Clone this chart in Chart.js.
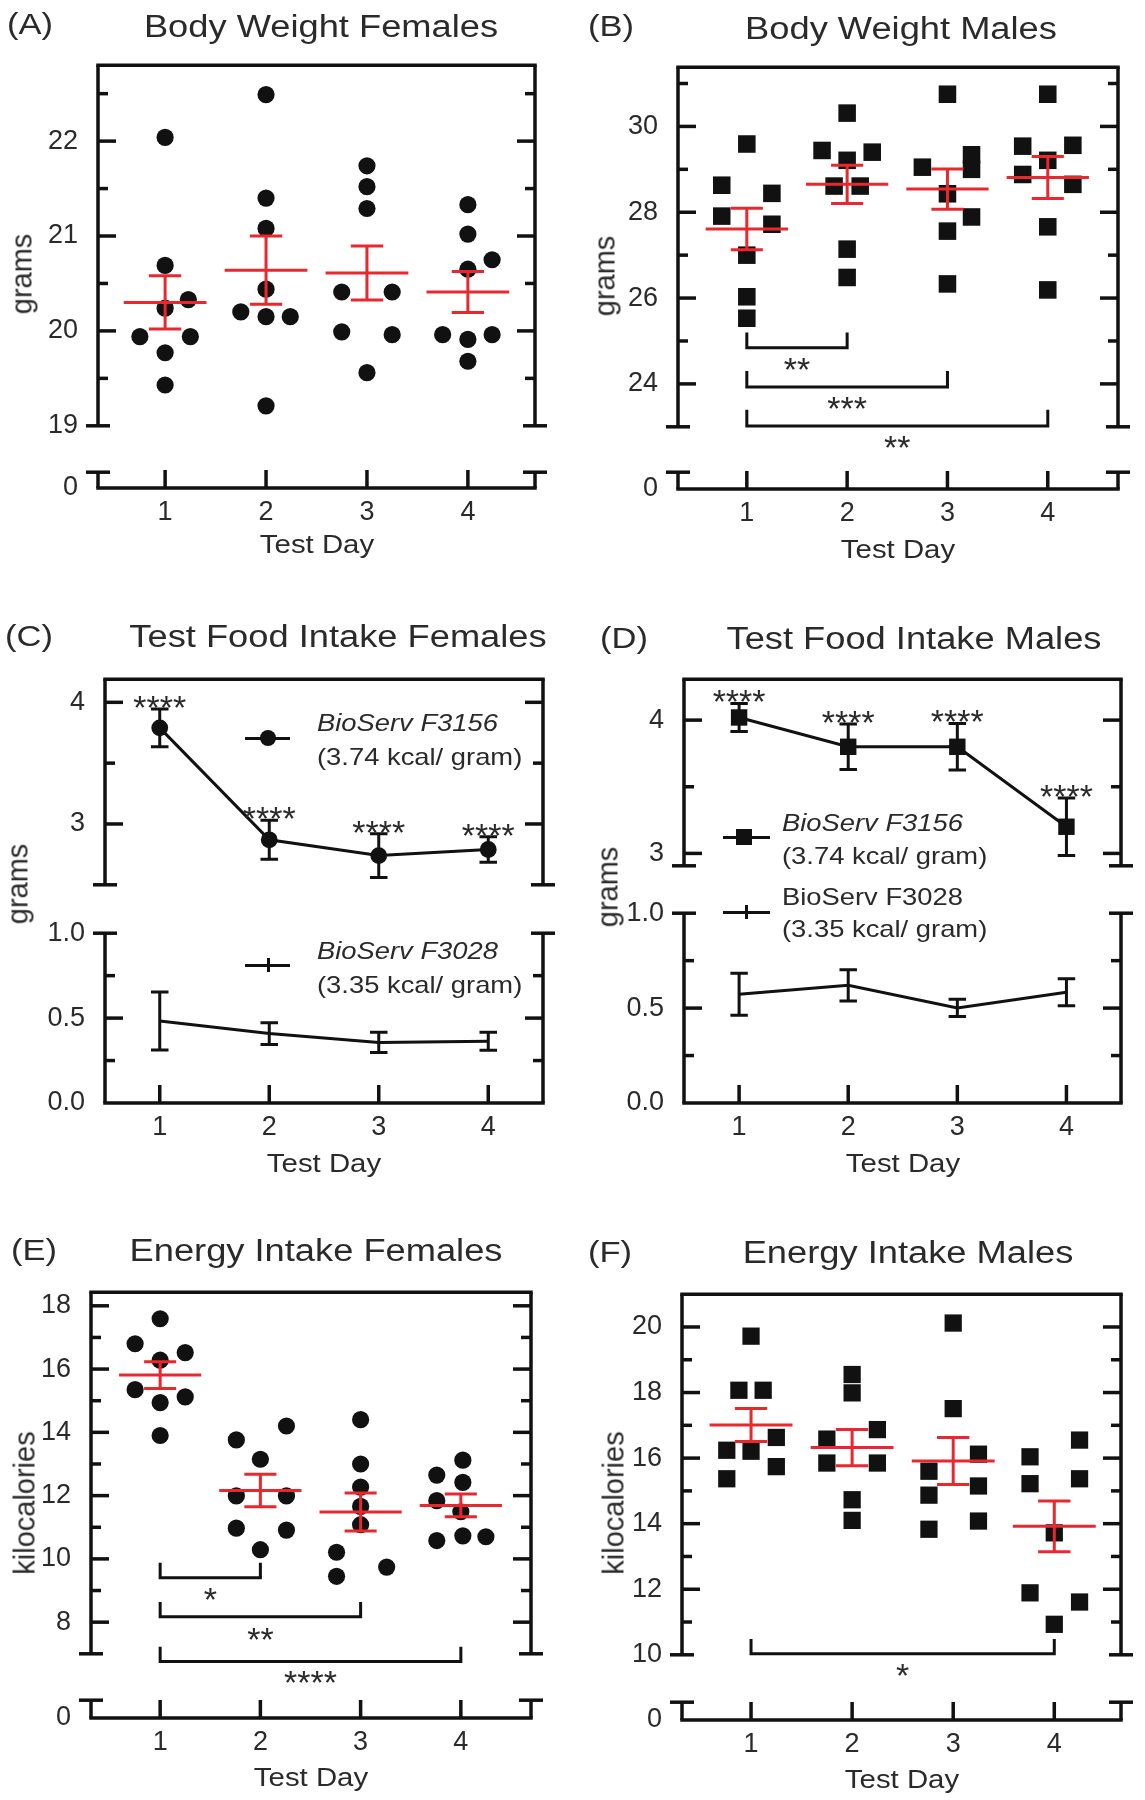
<!DOCTYPE html>
<html>
<head>
<meta charset="utf-8">
<script src="https://cdn.jsdelivr.net/npm/chart.js@4.4.0/dist/chart.umd.min.js"></script>
<style>
  body { margin: 0; background: #fff; }
  #fig { position: relative; width: 1145px; height: 1800px; overflow: hidden; font-family: 'Liberation Sans', Arial, Helvetica, sans-serif; color: #2a2a2a; }
  #fig canvas { position: absolute; }
  .txt { position: absolute; white-space: nowrap; line-height: 1; }
  .mark { position: absolute; background: #111; }
</style>
</head>
<body>
<div id="fig"></div>
<script>
// ---- data ----
const days = [1, 2, 3, 4];

// (A) body weight females (g)
const bwFemales = [
    [22.04, 20.69, 20.33, 20.24, 19.94, 19.94, 19.77, 19.43],
    [22.49, 21.40, 21.08, 20.44, 20.20, 20.15, 20.15, 19.21],
    [21.74, 21.52, 21.29, 20.41, 20.41, 19.99, 19.96, 19.56],
    [21.33, 21.02, 20.75, 20.65, 19.96, 19.96, 19.91, 19.68]
];
const bwFemalesJitter = [
    [0, 0, 0.23, 0, -0.25, 0.25, 0, 0],
    [0, 0, 0, 0, -0.25, 0, 0.24, 0],
    [0, 0, 0, -0.25, 0.25, -0.25, 0.25, 0],
    [0, 0, 0.24, 0, -0.25, 0.24, 0, 0]
];
const bwFemalesMean = [20.30, 20.64, 20.61, 20.41];
const bwFemalesSem = [0.28, 0.36, 0.285, 0.215];
const bwFemalesTicks = [19, 20, 21, 22];
const bwFemalesMinor = [19.5, 20.5, 21.5, 22.5];

// (B) body weight males (g)
const bwMales = [
    [29.59, 28.63, 28.44, 27.91, 27.72, 27.00, 26.03, 25.53],
    [30.31, 29.44, 29.40, 29.21, 28.61, 28.61, 27.14, 26.48],
    [30.75, 29.34, 29.05, 29.00, 28.43, 27.89, 27.56, 26.33],
    [30.75, 29.56, 29.54, 29.21, 28.88, 28.65, 27.66, 26.19]
];
const bwMalesJitter = [
    [0, -0.25, 0.25, -0.25, 0.25, 0, 0, 0],
    [0, -0.25, 0.25, 0, -0.13, 0.13, 0, 0],
    [0, 0.24, -0.25, 0.24, 0, 0.24, 0, 0],
    [0, 0.25, -0.25, 0, -0.25, 0.25, 0, 0]
];
const bwMalesMean = [27.61, 28.65, 28.54, 28.81];
const bwMalesSem = [0.485, 0.445, 0.47, 0.49];
const bwMalesTicks = [24, 26, 28, 30];
const bwMalesMinor = [23, 25, 27, 29, 31];
const bwMalesPairs = [[1, 2], [1, 3], [1, 4]];
const bwMalesPairHigh = [25.20, 24.30, 23.40];
const bwMalesPairLow = [24.84, 23.93, 23.02];
const bwMalesPairStars = ['**', '***', '**'];
const bwMalesPairStarY = [24.54, 23.63, 22.72];

// (C) test food intake females (g)
const f3156Females = [3.79, 2.87, 2.74, 2.79];
const f3156FemalesSem = [0.155, 0.16, 0.18, 0.105];
const f3028Females = [0.483, 0.409, 0.357, 0.363];
const f3028FemalesSem = [0.171, 0.064, 0.06, 0.053];
const f3156FemalesStars = ['****', '****', '****', '****'];

// (D) test food intake males (g)
const f3156Males = [4.02, 3.80, 3.80, 3.20];
const f3156MalesSem = [0.105, 0.17, 0.175, 0.215];
const f3028Males = [0.573, 0.620, 0.501, 0.583];
const f3028MalesSem = [0.111, 0.082, 0.045, 0.071];
const f3156MalesStars = ['****', '****', '****', '****'];

const intakeTicksTop = [3, 4];
const intakeMinorTop = [3.5];
const intakeTicksLow = [0, 0.5, 1.0];
const intakeMinorLow = [0.25, 0.75];

// (E) energy intake females (kcal)
const eiFemales = [
    [17.59, 16.80, 16.52, 16.28, 15.35, 15.12, 14.94, 13.90],
    [14.20, 13.76, 13.15, 11.99, 11.99, 10.97, 10.91, 10.29],
    [14.40, 13.00, 12.27, 11.66, 11.08, 10.21, 9.74, 9.45],
    [13.12, 12.65, 12.42, 11.84, 11.49, 10.73, 10.70, 10.58]
];
const eiFemalesJitter = [
    [0, -0.25, 0.25, 0, -0.25, 0.25, 0, 0],
    [0.26, -0.24, 0, -0.24, 0.26, -0.24, 0.26, 0],
    [0, 0, 0, 0, 0, -0.24, 0.26, -0.24],
    [0.02, -0.24, 0.02, -0.24, 0, 0.02, 0.25, -0.24]
];
const eiFemalesMean = [15.81, 12.16, 11.48, 11.69];
const eiFemalesSem = [0.425, 0.515, 0.60, 0.36];
const eiFemalesTicks = [8, 10, 12, 14, 16, 18];
const eiFemalesMinor = [7, 9, 11, 13, 15, 17];
const eiFemalesPairs = [[1, 2], [1, 3], [1, 4]];
const eiFemalesPairHigh = [9.88, 8.64, 7.22];
const eiFemalesPairLow = [9.40, 8.17, 6.76];
const eiFemalesPairStars = ['*', '**', '****'];
const eiFemalesPairStarY = [8.99, 7.71, 6.37];

// (F) energy intake males (kcal)
const eiMales = [
    [19.72, 18.07, 18.07, 16.63, 16.24, 16.21, 15.74, 15.37],
    [18.55, 17.99, 16.87, 16.58, 15.85, 15.85, 14.73, 14.10],
    [20.12, 17.51, 16.12, 15.60, 15.15, 14.87, 14.08, 13.83],
    [16.55, 16.04, 15.37, 15.22, 13.72, 11.89, 11.61, 10.93]
];
const eiMalesJitter = [
    [0, -0.12, 0.12, 0.25, -0.24, 0, 0.25, -0.24],
    [0, 0, 0.25, -0.25, -0.25, 0.25, 0, 0],
    [0, 0, 0.25, -0.24, 0.25, -0.24, 0.25, -0.24],
    [0.25, -0.24, 0.25, -0.24, 0, -0.24, 0.25, 0]
];
const eiMalesMean = [17.01, 16.32, 15.91, 13.92];
const eiMalesSem = [0.505, 0.55, 0.715, 0.775];
const eiMalesTicks = [10, 12, 14, 16, 18, 20];
const eiMalesMinor = [11, 13, 15, 17, 19];
const eiMalesPairs = [[1, 4]];
const eiMalesPairHigh = [10.48];
const eiMalesPairLow = [10.03];
const eiMalesPairStars = ['*'];
const eiMalesPairStarY = [9.64];

const zeroTick = [0];

// ---- drawing ----
const fig = document.getElementById('fig');
const FONT = "'Liberation Sans', Arial, Helvetica, sans-serif";
const INK = '#111';
const TEXT = '#2a2a2a';
const RED = '#e8282e';
const AX = 90, PR = 24, PT = 24, PB = 34, XH = 60;

// frame: box, broken-axis caps, inward ticks
const framePlugin = {
    id: 'frame',
    afterDraw(chart, args, opts) {
        if (!opts.part) return;
        const { ctx, chartArea: a, scales } = chart;
        const y = scales.y, x = scales.x;
        ctx.save();
        ctx.strokeStyle = INK;
        ctx.lineWidth = 3.5;
        const seg = (x1, y1, x2, y2) => { ctx.beginPath(); ctx.moveTo(x1, y1); ctx.lineTo(x2, y2); ctx.stroke(); };
        if (opts.part === 'upper') {
            seg(a.left - 1.75, a.top, a.right + 1.75, a.top);
            seg(a.left, a.top, a.left, a.bottom);
            seg(a.right, a.top, a.right, a.bottom);
            seg(a.left - 12, a.bottom, a.left + 12, a.bottom);
            seg(a.right - 12, a.bottom, a.right + 12, a.bottom);
        } else {
            seg(a.left - 12, a.top, a.left + 12, a.top);
            seg(a.right - 12, a.top, a.right + 12, a.top);
            seg(a.left, a.top, a.left, a.bottom);
            seg(a.right, a.top, a.right, a.bottom);
            seg(a.left - 1.75, a.bottom, a.right + 1.75, a.bottom);
            days.forEach(v => { const px = x.getPixelForValue(v); seg(px, a.bottom, px, a.bottom - 18); });
        }
        const inner = (v, len) => {
            const py = y.getPixelForValue(v);
            if (Math.abs(py - a.top) < 3 || Math.abs(py - a.bottom) < 3) return;
            seg(a.left, py, a.left + len, py);
            seg(a.right, py, a.right - len, py);
        };
        (opts.majors || []).forEach(v => inner(v, 18));
        (opts.minors || []).forEach(v => inner(v, 10));
        ctx.restore();
    }
};

// significance asterisks
const starsPlugin = {
    id: 'stars',
    afterDatasetsDraw(chart, args, opts) {
        if (!opts.items || !opts.items.length) return;
        const { ctx, scales: { x, y } } = chart;
        ctx.save();
        ctx.fillStyle = TEXT;
        ctx.font = '34px ' + FONT;
        ctx.textAlign = 'center';
        ctx.textBaseline = 'alphabetic';
        opts.items.forEach(s => {
            const px = x.getPixelForValue(s.x);
            const py = y.getPixelForValue(s.y) + (s.dy || 0);
            ctx.fillText(s.text, px, py + 20);
        });
        ctx.restore();
    }
};

Chart.register(framePlugin, starsPlugin);

function makeCanvas(left, top, w, h) {
    const c = document.createElement('canvas');
    c.width = w; c.height = h;
    c.style.left = left + 'px'; c.style.top = top + 'px';
    c.style.width = w + 'px'; c.style.height = h + 'px';
    fig.appendChild(c);
    return c;
}

function addText(str, x, y, size, o = {}) {
    const d = document.createElement('div');
    d.className = 'txt';
    d.textContent = str;
    d.style.left = x + 'px';
    d.style.top = y + 'px';
    d.style.fontSize = size + 'px';
    if (o.italic) d.style.fontStyle = 'italic';
    const sx = o.sx || 1;
    if (o.rotate) {
        d.style.transform = 'translate(-50%,-50%) rotate(-90deg)';
    } else if (o.left) {
        d.style.transformOrigin = '0 50%';
        d.style.transform = `translateY(-50%) scaleX(${sx})`;
    } else {
        d.style.transform = `translate(-50%,-50%) scaleX(${sx})`;
    }
    fig.appendChild(d);
}

function addMark(x, y, w, h, round) {
    const d = document.createElement('div');
    d.className = 'mark';
    d.style.left = (x - w / 2) + 'px';
    d.style.top = (y - h / 2) + 'px';
    d.style.width = w + 'px';
    d.style.height = h + 'px';
    if (round) d.style.borderRadius = '50%';
    fig.appendChild(d);
}

// helpers turning the arrays into chart points
function scatterPoints(groups, jitter) {
    const pts = [];
    groups.forEach((vals, i) => vals.forEach((v, j) => pts.push({ x: days[i] + jitter[i][j], y: v })));
    return pts;
}
function meanSegments(means, half) {
    const pts = [];
    means.forEach((m, i) => pts.push({ x: days[i] - half, y: m }, { x: days[i] + half, y: m }, { x: days[i], y: null }));
    return pts;
}
function errorSegments(means, sems, cap) {
    const pts = [];
    means.forEach((m, i) => {
        const d = days[i], hi = m + sems[i], lo = m - sems[i];
        pts.push({ x: d, y: lo }, { x: d, y: hi }, { x: d, y: null },
                 { x: d - cap, y: hi }, { x: d + cap, y: hi }, { x: d, y: null },
                 { x: d - cap, y: lo }, { x: d + cap, y: lo }, { x: d, y: null });
    });
    return pts;
}
function bracketSegments(pairs, high, low) {
    const pts = [];
    pairs.forEach((p, i) => pts.push({ x: p[0], y: high[i] }, { x: p[0], y: low[i] },
                                     { x: p[1], y: low[i] }, { x: p[1], y: high[i] }, { x: p[0], y: null }));
    return pts;
}

function lineSet(data, color, order) {
    return { data, showLine: true, borderColor: color, borderWidth: 3, pointRadius: 0, spanGaps: false, clip: false, order };
}
function pointSet(data, style, radius) {
    return { data, showLine: false, pointStyle: style, pointRadius: radius, pointBorderWidth: 0,
             backgroundColor: INK, borderColor: INK, clip: false, order: 3 };
}
function dotPlotSets(groups, jitter, means, sems, style, radius, pairs, high, low) {
    const sets = [
        pointSet(scatterPoints(groups, jitter), style, radius),
        lineSet(meanSegments(means, 0.41), RED, 1),
        lineSet(errorSegments(means, sems, 0.16), RED, 1)
    ];
    if (pairs) sets.push(lineSet(bracketSegments(pairs, high, low), INK, 2));
    return sets;
}
function meanLineSets(means, sems, style, radius) {
    const line = {
        data: means.map((m, i) => ({ x: days[i], y: m })), showLine: true, borderColor: INK, borderWidth: 3,
        pointStyle: style, pointRadius: radius, pointBorderWidth: 0, backgroundColor: INK, clip: false, order: 2
    };
    return [line, lineSet(errorSegments(means, sems, 0.08), INK, 2)];
}
function pairStars(pairs, texts, ys) {
    return pairs.map((p, i) => ({ x: (p[0] + p[1]) / 2, y: ys[i], text: texts[i] }));
}
function barStars(means, sems, texts) {
    return means.map((m, i) => ({ x: days[i], y: m + sems[i], dy: -10, text: texts[i] }));
}

function buildChart(canvas, datasets, o) {
    return new Chart(canvas, {
        type: 'scatter',
        data: { datasets },
        options: {
            responsive: false,
            animation: false,
            events: [],
            devicePixelRatio: 1,
            layout: { autoPadding: false, padding: { left: 0, top: PT, right: PR, bottom: o.padBottom } },
            plugins: {
                legend: { display: false },
                tooltip: { enabled: false },
                frame: o.frame,
                stars: { items: o.stars || [] }
            },
            scales: {
                x: {
                    type: 'linear', min: o.xMin, max: o.xMax, bounds: 'data', display: o.showX,
                    afterFit: o.showX ? (s => { s.height = XH; }) : undefined,
                    afterBuildTicks: s => { s.ticks = days.map(v => ({ value: v })); },
                    grid: { display: false, drawTicks: false },
                    border: { display: false },
                    ticks: { padding: 8, color: TEXT, font: { family: FONT, size: 27 }, autoSkip: false, maxRotation: 0, callback: v => String(v) }
                },
                y: {
                    type: 'linear', min: o.yMin, max: o.yMax, bounds: 'data',
                    afterFit: s => { s.width = AX; },
                    afterBuildTicks: s => { s.ticks = o.yLabels.map(v => ({ value: v })); },
                    grid: { display: false, drawTicks: false },
                    border: { display: false },
                    ticks: { padding: 20, color: TEXT, font: { family: FONT, size: 27 }, autoSkip: false, callback: o.fmt }
                }
            }
        }
    });
}

function buildPanel(p) {
    const w = p.R - p.L + AX + PR;
    const up = makeCanvas(p.L - AX, p.T - PT, w, p.B - p.T + PT + PB);
    buildChart(up, p.upperSets, {
        xMin: p.xMin, xMax: p.xMax, yMin: p.yMin, yMax: p.yMax, yLabels: p.yLabels, fmt: p.fmt,
        showX: false, padBottom: PB, frame: { part: 'upper', majors: p.yLabels, minors: p.minors }, stars: p.stars
    });
    const lo = makeCanvas(p.L - AX, p.lowT - PT, w, p.base - p.lowT + PT + XH);
    buildChart(lo, p.lowerSets || [], {
        xMin: p.xMin, xMax: p.xMax, yMin: 0, yMax: 1, yLabels: p.lowLabels, fmt: p.lowFmt,
        showX: true, padBottom: 0, frame: { part: 'lower', majors: p.lowLabels, minors: p.lowMinors || [] }
    });
    addText(p.letter, p.letterX, p.letterY, 30, { left: true, sx: 1.15 });
    addText(p.title, p.titleX, p.titleY, 31, { sx: 1.17 });
    addText(p.ytitle, p.ytX, p.ytY, 29, { rotate: true });
    addText('Test Day', (p.L + p.R) / 2, p.xtY, 26, { sx: 1.13 });
}

const intFmt = v => String(v);
const oneDec = v => v.toFixed(1);

// (A)
buildPanel({
    letter: '(A)', letterX: 7, letterY: 24, title: 'Body Weight Females', titleX: 321, titleY: 26,
    ytitle: 'grams', ytX: 22, ytY: 274, xtY: 544,
    L: 98, R: 535, T: 53, B: 428, lowT: 460, base: 488,
    xMin: 0.335, xMax: 4.665, yMin: 19, yMax: 22.8, yLabels: bwFemalesTicks, minors: bwFemalesMinor, fmt: intFmt,
    lowLabels: zeroTick, lowFmt: intFmt,
    upperSets: dotPlotSets(bwFemales, bwFemalesJitter, bwFemalesMean, bwFemalesSem, 'circle', 8.6)
});

// (B)
buildPanel({
    letter: '(B)', letterX: 588, letterY: 26, title: 'Body Weight Males', titleX: 901, titleY: 28,
    ytitle: 'grams', ytX: 605, ytY: 276, xtY: 549,
    L: 678, R: 1118, T: 55, B: 429, lowT: 460, base: 489,
    xMin: 0.314, xMax: 4.70, yMin: 23, yMax: 31.38, yLabels: bwMalesTicks, minors: bwMalesMinor, fmt: intFmt,
    lowLabels: zeroTick, lowFmt: intFmt,
    upperSets: dotPlotSets(bwMales, bwMalesJitter, bwMalesMean, bwMalesSem, 'rect', 12.4,
                           bwMalesPairs, bwMalesPairHigh, bwMalesPairLow),
    stars: pairStars(bwMalesPairs, bwMalesPairStars, bwMalesPairStarY)
});

// (C)
buildPanel({
    letter: '(C)', letterX: 5, letterY: 636, title: 'Test Food Intake Females', titleX: 338, titleY: 636,
    ytitle: 'grams', ytX: 18, ytY: 884, xtY: 1163,
    L: 105, R: 543, T: 667, B: 887, lowT: 921, base: 1103,
    xMin: 0.5, xMax: 4.5, yMin: 2.5, yMax: 4.19, yLabels: intakeTicksTop, minors: intakeMinorTop, fmt: intFmt,
    lowLabels: intakeTicksLow, lowMinors: intakeMinorLow, lowFmt: oneDec,
    upperSets: meanLineSets(f3156Females, f3156FemalesSem, 'circle', 8.4),
    stars: barStars(f3156Females, f3156FemalesSem, f3156FemalesStars),
    lowerSets: meanLineSets(f3028Females, f3028FemalesSem, 'circle', 0)
});

// (D)
buildPanel({
    letter: '(D)', letterX: 600, letterY: 638, title: 'Test Food Intake Males', titleX: 914, titleY: 638,
    ytitle: 'grams', ytX: 608, ytY: 887, xtY: 1163,
    L: 684, R: 1121, T: 667, B: 868, lowT: 901, base: 1103,
    xMin: 0.495, xMax: 4.5, yMin: 2.907, yMax: 4.307, yLabels: intakeTicksTop, minors: intakeMinorTop, fmt: intFmt,
    lowLabels: intakeTicksLow, lowMinors: intakeMinorLow, lowFmt: oneDec,
    upperSets: meanLineSets(f3156Males, f3156MalesSem, 'rect', 11.6),
    stars: barStars(f3156Males, f3156MalesSem, f3156MalesStars),
    lowerSets: meanLineSets(f3028Males, f3028MalesSem, 'rect', 0)
});

// (E)
buildPanel({
    letter: '(E)', letterX: 11, letterY: 1250, title: 'Energy Intake Females', titleX: 316, titleY: 1250,
    ytitle: 'kilocalories', ytX: 25, ytY: 1503, xtY: 1777,
    L: 91, R: 531, T: 1280, B: 1656, lowT: 1688, base: 1718,
    xMin: 0.31, xMax: 4.70, yMin: 7, yMax: 18.43, yLabels: eiFemalesTicks, minors: eiFemalesMinor, fmt: intFmt,
    lowLabels: zeroTick, lowFmt: intFmt,
    upperSets: dotPlotSets(eiFemales, eiFemalesJitter, eiFemalesMean, eiFemalesSem, 'circle', 8.6,
                           eiFemalesPairs, eiFemalesPairHigh, eiFemalesPairLow),
    stars: pairStars(eiFemalesPairs, eiFemalesPairStars, eiFemalesPairStarY)
});

// (F)
buildPanel({
    letter: '(F)', letterX: 588, letterY: 1252, title: 'Energy Intake Males', titleX: 908, titleY: 1252,
    ytitle: 'kilocalories', ytX: 614, ytY: 1503, xtY: 1779,
    L: 682, R: 1121, T: 1282, B: 1657, lowT: 1690, base: 1720,
    xMin: 0.317, xMax: 4.66, yMin: 10, yMax: 21.0, yLabels: eiMalesTicks, minors: eiMalesMinor, fmt: intFmt,
    lowLabels: zeroTick, lowFmt: intFmt,
    upperSets: dotPlotSets(eiMales, eiMalesJitter, eiMalesMean, eiMalesSem, 'rect', 12.2,
                           eiMalesPairs, eiMalesPairHigh, eiMalesPairLow),
    stars: pairStars(eiMalesPairs, eiMalesPairStars, eiMalesPairStarY)
});

// legends of the two food-intake panels
addMark(267.5, 738, 45, 3);
addMark(268, 738, 16, 16, true);
addText('BioServ F3156', 317, 723, 24, { left: true, italic: true, sx: 1.14 });
addText('(3.74 kcal/ gram)', 317, 757, 24, { left: true, sx: 1.14 });
addMark(267.5, 965, 45, 3);
addMark(268, 965, 3, 14);
addText('BioServ F3028', 317, 951, 24, { left: true, italic: true, sx: 1.14 });
addText('(3.35 kcal/ gram)', 317, 985, 24, { left: true, sx: 1.14 });

addMark(746.5, 837, 47, 3);
addMark(744, 837, 16, 16);
addText('BioServ F3156', 782, 823, 24, { left: true, italic: true, sx: 1.14 });
addText('(3.74 kcal/ gram)', 782, 856, 24, { left: true, sx: 1.14 });
addMark(746.5, 912, 47, 3);
addMark(746, 912, 3, 14);
addText('BioServ F3028', 782, 897, 24, { left: true, sx: 1.14 });
addText('(3.35 kcal/ gram)', 782, 929, 24, { left: true, sx: 1.14 });
</script>
</body>
</html>
